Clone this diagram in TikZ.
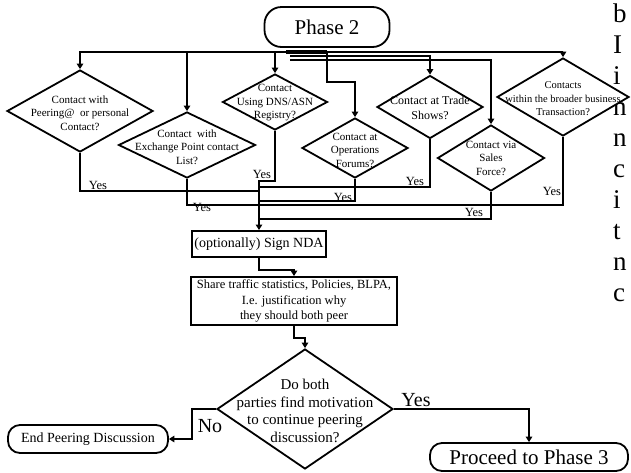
\documentclass[tikz,border=0pt]{standalone}
\usepackage{fontspec}
\setmainfont{Liberation Serif}
\usetikzlibrary{shapes.geometric,arrows.meta}
\begin{document}
\begin{tikzpicture}[x=1pt,y=-1pt,
  conn/.style={line width=1.8pt, line join=miter},
  arr/.style={conn,-{Triangle[length=5.5pt,width=6.5pt]}},
  dia/.style={draw, diamond, fill=white, inner sep=0pt, line width=1.8pt},
  dtext/.style={align=center, font=\fontsize{11}{13.5}\selectfont, inner sep=0pt},
  term/.style={draw, rounded corners=12pt, fill=white, inner sep=0pt, line width=1.8pt},
  boxs/.style={draw, fill=white, inner sep=0pt, line width=2pt, align=center},
  ylab/.style={font=\fontsize{12.5}{14}\selectfont, inner sep=0pt},
  biglab/.style={font=\fontsize{20}{22}\selectfont, inner sep=0pt},
  bglet/.style={font=\fontsize{27}{30}\selectfont, anchor=base west, inner sep=0pt}
]
\useasboundingbox (0,0) rectangle (631,472);
\fill[white] (0,0) rectangle (631,472);

% clipped letters at the right edge
\foreach \l [count=\i from 0] in {b,I,i,n,n,c,i,t,n,c}
  \node[bglet] (bg\i) at (613,{22+31*\i}) {\l};

% start terminator
\node[term, rounded corners=17pt, minimum width=125pt, minimum height=40pt,
      font=\fontsize{21}{24}\selectfont] (p2) at (327,27) {Phase 2};

% Yes labels (drawn below the connectors)
\node[ylab] (y1) at (98,185) {Yes};
\node[ylab] (y2) at (202,207) {Yes};
\node[ylab] (y3) at (262,174) {Yes};
\node[ylab] (y4) at (343,197) {Yes};
\node[ylab] (y5) at (415,181) {Yes};
\node[ylab] (y6) at (474,212) {Yes};
\node[ylab] (y7) at (552,191) {Yes};

% decision diamonds
\node[dia, minimum width=146pt, minimum height=82pt] (d1) at (80,111) {};
\node[dia, minimum width=137pt, minimum height=66pt] (d2) at (187,145) {};
\node[dia, minimum width=105pt, minimum height=56pt] (d3) at (275,102) {};
\node[dia, minimum width=106pt, minimum height=60pt] (d4) at (355,148) {};
\node[dia, minimum width=106pt, minimum height=63pt] (d5) at (430,107) {};
\node[dia, minimum width=107pt, minimum height=66pt] (d6) at (491,158) {};
\node[dia, minimum width=132pt, minimum height=78pt] (d7) at (563,97) {};

\node[dtext] (t1) at (80,113) {Contact with\\Peering@\ \ or personal\\Contact?};
\node[dtext] (t2) at (187,147) {Contact\ \ with\\Exchange Point contact\\List?};
\node[dtext] (t3) at (275,103) {Contact\\Using DNS/ASN\\Registry?};
\node[dtext] (t4) at (355,150) {Contact at\\Operations\\Forums?};
\node[dtext, font=\fontsize{12}{14.5}\selectfont] (t5) at (430,108) {Contact at Trade\\Shows?};
\node[dtext] (t6) at (491,158) {Contact via\\Sales\\Force?};
\node[dtext, font=\fontsize{10.5}{13.5}\selectfont] (t7) at (563,99) {Contacts\\within the broader business\\Transaction?};

% branches from Phase 2
\coordinate (hub) at (327,52);
\coordinate (hub4) at (327,82);
\coordinate (h5) at (290,56);
\coordinate (h6) at (290,60);
\coordinate (h7) at (290,52);
\draw[line width=4pt] (286,52) -- (hub);
\draw[arr] (hub) -| (d1.north);
\draw[arr] (d2.north |- hub) -- (d2.north);
\draw[arr] (d3.north |- hub) -- (d3.north);
\draw[arr] (hub) -- (hub4) -| (d4.north);
\draw[arr] (h5) -| (d5.north);
\draw[arr] (h6) -| (d6.north);
\draw[arr, line width=1.3pt] (h7) -| (d7.north);

% process boxes
\node[boxs, minimum width=134pt, minimum height=26pt,
      font=\fontsize{14}{16}\selectfont] (nda) at (259,244) {(optionally) Sign NDA};
\node[boxs, minimum width=206pt, minimum height=48pt,
      font=\fontsize{12.5}{15.5}\selectfont] (share) at (294,301)
      {Share traffic statistics, Policies, BLPA,\\I.e. justification why\\they should both peer};

% Yes connectors into the main line
\coordinate (j1) at (259,191);
\coordinate (j2) at (259,205);
\coordinate (j4) at (259,201);
\coordinate (j5) at (259,187);
\coordinate (j6) at (259,219);
\coordinate (j7) at (259,205);
\draw[conn] (d1.south) |- (j1);
\draw[conn] (d2.south) |- (j2);
\draw[conn] (d4.south) |- (j4);
\draw[conn] (d5.south) |- (j5);
\draw[conn] (d6.south) |- (j6);
\draw[conn] (d7.south) |- (j7);
\draw[arr] (d3.south) -- ++(0,50) -| (nda.north);

% lower part
\node[dia, minimum width=176pt, minimum height=120pt] (dd) at (305,409) {};
\node[dtext, font=\fontsize{15}{17.5}\selectfont] (ddt) at (305,411)
  {Do both\\parties find motivation\\to continue peering\\discussion?};
\node[term, minimum width=160pt, minimum height=28pt,
      font=\fontsize{14}{16}\selectfont] (endp) at (88,439) {End Peering Discussion};
\node[term, minimum width=198pt, minimum height=28pt,
      font=\fontsize{21}{24}\selectfont] (proc) at (529,457) {Proceed to Phase 3};

\draw[arr] (nda.south) -- ++(0,12) -| (share.north);
\draw[arr] (share.south) -- ++(0,12) -| (dd.north);
\draw[arr] (dd.east) -| (proc.north);
\draw[arr] (dd.west) -- ++(-24,0) |- (endp.east);
\node[biglab] (yes) at (416,400) {Yes};
\node[biglab] (no) at (210,426) {No};
\end{tikzpicture}
\end{document}
